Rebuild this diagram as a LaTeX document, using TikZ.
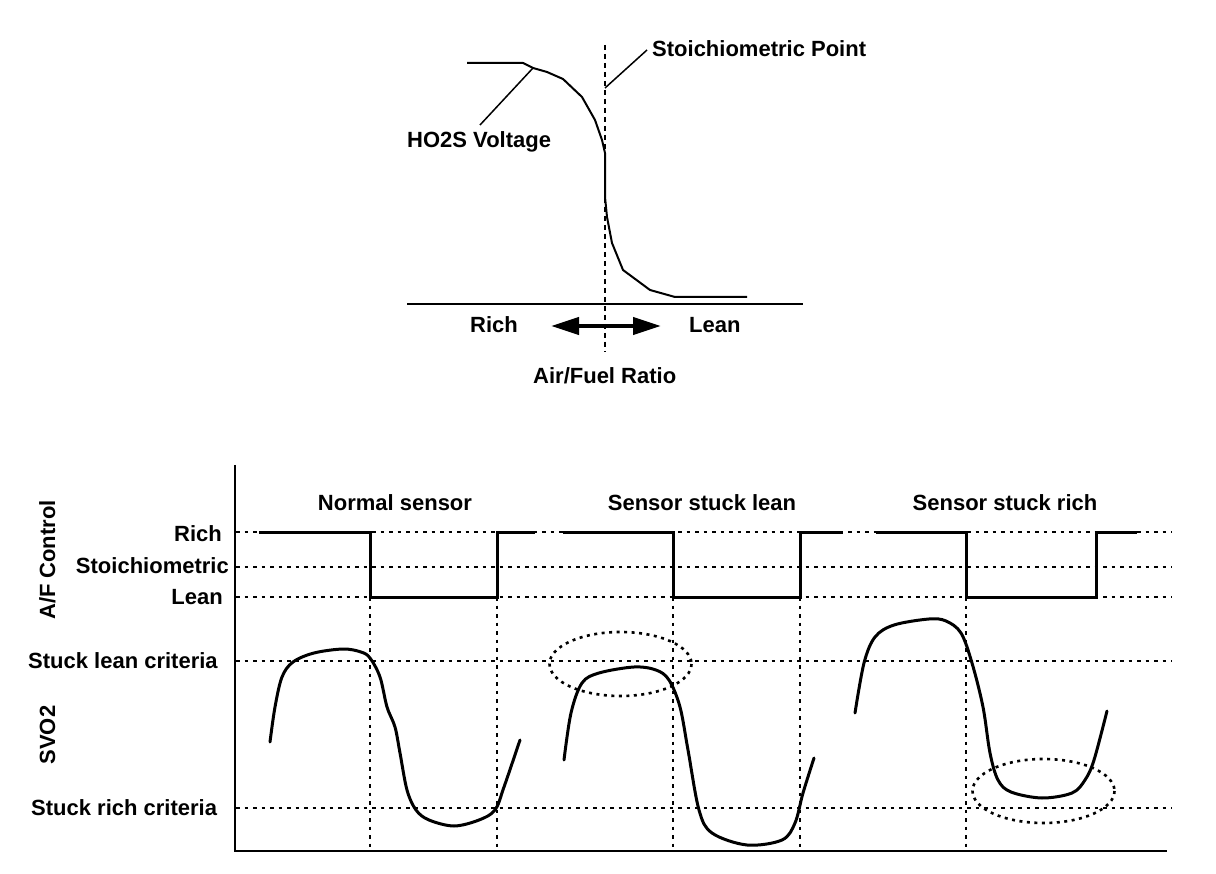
\documentclass[tikz,border=0pt]{standalone}
\usepackage{fontspec}
\setmainfont{Liberation Sans}
\usetikzlibrary{arrows.meta}
\begin{document}
\begin{tikzpicture}[x=1pt,y=-1pt,
  lbl/.style={font=\fontsize{22}{26}\selectfont\bfseries, inner sep=0pt},
  thin/.style={line width=2pt},
  topcurve/.style={line width=2pt, line join=round},
  sig/.style={line width=3pt, line join=round, line cap=round},
  wave/.style={line width=3pt, line join=miter},
  gridline/.style={line width=1.6pt, dash pattern=on 3.5pt off 5pt},
  vdash/.style={line width=1.5pt, dash pattern=on 5pt off 4pt},
  ring/.style={line width=2.6pt, dash pattern=on 3pt off 4.5pt}]
\useasboundingbox (0,0) rectangle (1216,874);

% ---------------- top graph ----------------
\coordinate (sTop) at (605,45);
\coordinate (sBot) at (605,352);
\draw[vdash] (sTop) -- (sBot);
\coordinate (bl0) at (407,304);
\coordinate (bl1) at (803,304);
\draw[thin] (bl0) -- (bl1);
\draw[topcurve] (467,63) -- (523,63) -- (533,68) -- (547,72) -- (563,79) -- (582,97)
  -- (595,120) -- (602,140) -- (605,153) -- (605,197) -- (607,217) -- (612,243)
  -- (623,270) -- (650,290) -- (675,297) -- (747,297);
\coordinate (hoPt) at (533,68);
\coordinate (stPt) at (605,88);

\node[lbl, anchor=base west] (stoichPt) at (652,57) {Stoichiometric Point};
\node[lbl, anchor=base west] (ho2s) at (407,148) {HO2S Voltage};
\coordinate (stL) at (647,50);
\coordinate (hoL) at (480,125);
\draw[line width=1.5pt] (stL) -- (stPt);
\draw[line width=1.5pt] (hoL) -- (hoPt);

\node[lbl, anchor=base west] (rich) at (470,333) {Rich};
\node[lbl, anchor=base west] (lean) at (689,333) {Lean};
\coordinate (arL) at (551,326);
\coordinate (arR) at (661,326);
\draw[line width=4pt, {Triangle[length=28pt,width=17pt]}-{Triangle[length=28pt,width=17pt]}] (arL) -- (arR);
\node[lbl, anchor=base west] (afr) at (533,384) {Air/Fuel Ratio};

% ---------------- bottom graph ----------------
\coordinate (ax0) at (234.5,465);
\coordinate (axO) at (234.5,851);
\coordinate (ax1) at (1167,851);

% dotted reference lines
\foreach \yy in {532,567,597,661,808}{
  \draw[gridline] (236,\yy) -- (1172,\yy);
}
\foreach \xx in {370,497,673,800,966}{
  \draw[gridline] (\xx,597) -- (\xx,850);
}
\draw[thin] (ax0) -- (axO) -- (ax1);

% labels
\node[lbl, anchor=base east] (lRich) at (222,541) {Rich};
\node[lbl, anchor=base east] (lSt) at (229,573) {Stoichiometric};
\node[lbl, anchor=base east] (lLean) at (223,604) {Lean};
\node[lbl, anchor=base west] (lSL) at (28,668) {Stuck lean criteria};
\node[lbl, anchor=base west] (lSR) at (31,815) {Stuck rich criteria};
\node[lbl, anchor=base, rotate=90] (afc) at (55,560) {A/F Control};
\node[lbl, anchor=base, rotate=90] (svo) at (55,735) {SVO2};
\node[lbl, anchor=base] (tN) at (395,511) {Normal sensor};
\node[lbl, anchor=base] (tL) at (702,511) {Sensor stuck lean};
\node[lbl, anchor=base] (tR) at (1005,511) {Sensor stuck rich};

% square waves
\draw[wave] (259,532) -- (370,532) -- (370,597) -- (497,597) -- (497,532) -- (535,532);
\draw[wave] (563,532) -- (673,532) -- (673,597) -- (800,597) -- (800,532) -- (843,532);
\draw[wave] (876,532) -- (966,532) -- (966,597) -- (1096,597) -- (1096,532) -- (1137,532);

% SVO2 signals
\draw[sig] plot[smooth, tension=0.55] coordinates {
  (270,742) (275,707) (282,677) (293,662) (314,653) (343,649) (361,652) (370,658)
  (380,677) (387,707) (395,727) (400,753) (407,790) (416,810) (429,820) (454,826)
  (479,820) (495,810) (504,787) (520,740)};
\draw[sig] plot[smooth, tension=0.55] coordinates {
  (564,760) (571,713) (582,683) (599,673) (634,667) (656,670) (669,680) (680,707)
  (688,750) (699,810) (712,833) (747,845) (782,840) (795,823) (803,793) (814,758)};
\draw[sig] plot[smooth, tension=0.55] coordinates {
  (855,713) (864,663) (875,637) (894,625) (929,619) (946,621) (961,633) (972,663)
  (983,707) (990,753) (998,780) (1011,792) (1042,798) (1072,793) (1085,780)
  (1094,760) (1107,711)};

% highlight rings
\draw[ring] (620.5,664) ellipse [x radius=71, y radius=32];
\draw[ring] (1043.5,791) ellipse [x radius=71, y radius=32];
\end{tikzpicture}
\end{document}
